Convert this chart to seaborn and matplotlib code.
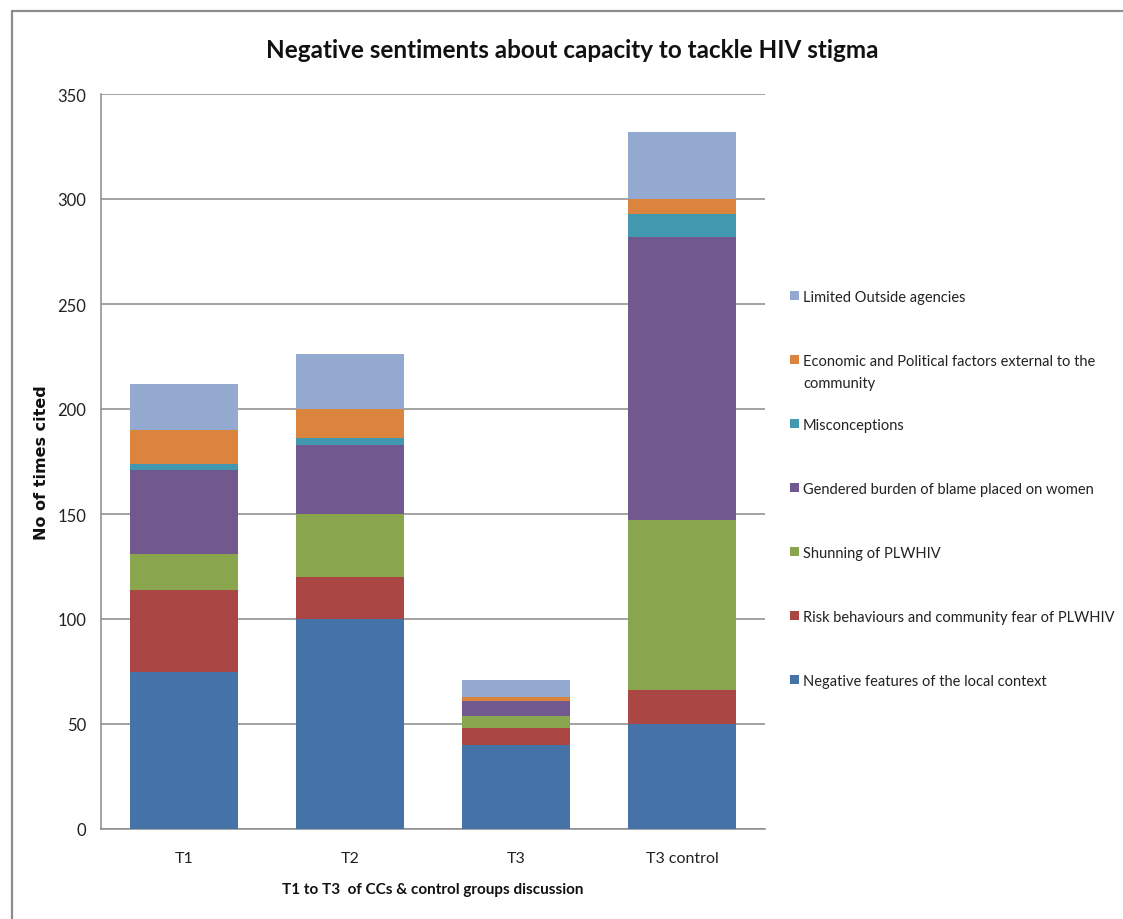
import matplotlib
matplotlib.use("Agg")
import matplotlib.pyplot as plt
from matplotlib.lines import Line2D
from matplotlib.patches import Rectangle
import numpy as np
import seaborn as sns

# Discussion rounds on the x axis
groups = ["T1", "T2", "T3", "T3 control"]

# Times each negative theme was cited, per round (bottom of the stack first)
local_context = [75, 100, 40, 50]
risk_fear = [39, 20, 8, 16]
shunning = [17, 30, 6, 81]
gendered_blame = [40, 33, 7, 135]
misconceptions = [3, 3, 0, 11]
econ_political = [16, 14, 2, 7]
outside_agencies = [22, 26, 8, 32]

series_names = [
    "Negative features of the local context",
    "Risk behaviours and community fear of PLWHIV",
    "Shunning of PLWHIV",
    "Gendered burden of blame placed on women",
    "Misconceptions",
    "Economic and Political factors external to the\ncommunity",
    "Limited Outside agencies",
]
series_values = [local_context, risk_fear, shunning, gendered_blame,
                 misconceptions, econ_political, outside_agencies]
series_colors = ["#4572A7", "#AA4643", "#89A54E", "#71588F",
                 "#4198AF", "#DB843D", "#93A9CF"]

yticks = [0, 50, 100, 150, 200, 250, 300, 350]

sns.set_theme(style="white")
plt.rcParams["font.family"] = ["Lato", "DejaVu Sans"]

W, H = 1123, 920
fig = plt.figure(figsize=(W / 100, H / 100), dpi=100)
fig.patch.set_facecolor("white")

ax = fig.add_axes([101 / W, 1 - 830 / H, (765 - 101) / W, (830 - 95) / H])

# Stacked bars: draw running totals from the top layer down so each
# lower layer covers the one above it
cum = np.cumsum(np.array(series_values, dtype=float), axis=0)
for i in range(len(series_names) - 1, -1, -1):
    sns.barplot(x=groups, y=cum[i], color=series_colors[i], width=0.645,
                saturation=1, ax=ax, zorder=3, linewidth=0)

ax.set_ylim(0, 350)
ax.set_xlim(-0.5, len(groups) - 0.5)
ax.set_yticks(yticks)
ax.set_yticklabels([str(t) for t in yticks], fontsize=12)
ax.tick_params(axis="y", length=0, pad=10.5, colors="#222222")
ax.tick_params(axis="x", length=0, pad=16, labelsize=11.5, colors="#222222")

grid_col = "#8a8a8a"
ax.yaxis.grid(True, color=grid_col, linewidth=1.1, zorder=0)
ax.xaxis.grid(False)
for side in ["top", "right"]:
    ax.spines[side].set_visible(False)
for side in ["left", "bottom"]:
    ax.spines[side].set_color(grid_col)
    ax.spines[side].set_linewidth(1.1)

ax.set_xlabel("T1 to T3  of CCs & control groups discussion",
              fontsize=11, fontweight="bold", labelpad=12, color="#111111")
ax.set_ylabel("No of times cited", fontsize=11.5, fontweight="bold",
              family="DejaVu Sans", labelpad=6, color="#111111")

fig.text(572 / W, 1 - 50 / H,
         "Negative sentiments about capacity to tackle HIV stigma",
         ha="center", va="center", fontsize=17.5, fontweight="bold",
         color="#111111")

# Legend, listed top to bottom in reverse stacking order
leg_top = 296
leg_step = 64
for k, i in enumerate(range(len(series_names) - 1, -1, -1)):
    yc = leg_top + k * leg_step
    fig.patches.append(Rectangle((790 / W, 1 - (yc + 4.5) / H), 9 / W, 9 / H,
                                 transform=fig.transFigure,
                                 facecolor=series_colors[i], edgecolor="none"))
    fig.text(803 / W, 1 - (yc - 5) / H, series_names[i], ha="left", va="top",
             fontsize=10.5, color="#222222", linespacing=1.75)

# Chart frame
frame_col = "#8c8c8c"
fig.add_artist(Line2D([12 / W, 1.0], [1 - 12 / H, 1 - 12 / H],
                      transform=fig.transFigure, color=frame_col, linewidth=1.6))
fig.add_artist(Line2D([12 / W, 12 / W], [0.0, 1 - 12 / H],
                      transform=fig.transFigure, color=frame_col, linewidth=1.6))

fig.savefig("out.png", dpi=100, facecolor="white")
